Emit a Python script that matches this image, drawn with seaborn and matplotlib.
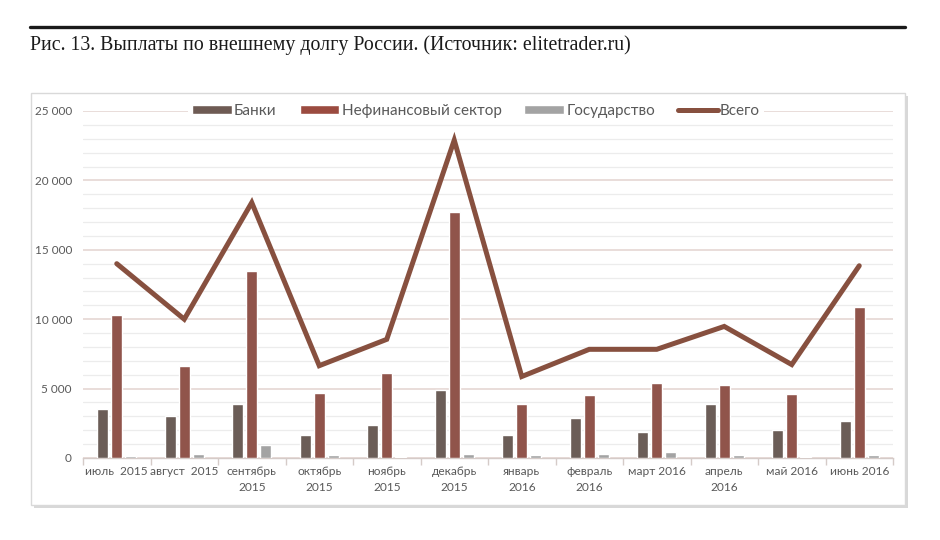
import matplotlib
matplotlib.use('Agg')
import matplotlib.pyplot as plt
import seaborn as sns
import numpy as np
import pandas as pd
from matplotlib.patches import Patch, Rectangle
from matplotlib.lines import Line2D
from matplotlib.ticker import MultipleLocator, FuncFormatter


# Данные (млн долл.)
months = ['июль  2015', 'август  2015', 'сентябрь\n2015', 'октябрь\n2015',
          'ноябрь\n2015', 'декабрь\n2015', 'январь\n2016', 'февраль\n2016',
          'март 2016', 'апрель\n2016', 'май 2016', 'июнь 2016']
banks = [3500, 3050, 3900, 1680, 2380, 4900, 1680, 2900, 1850, 3900, 2000, 2680]
nonfin = [10300, 6600, 13500, 4680, 6150, 17700, 3920, 4520, 5420, 5280, 4600, 10900]
govt = [150, 320, 950, 220, 60, 290, 220, 290, 460, 220, 60, 220]
total = [14000, 10000, 18400, 6650, 8550, 22900, 5870, 7830, 7830, 9480, 6730, 13850]

series_names = ['Банки', 'Нефинансовый сектор', 'Государство']
colors = ['#6e5b54', '#9b4b40', '#a3a3a3']
line_color = '#87503f'
text_color = '#595959'

df = pd.DataFrame({
    'month': months * 3,
    'series': np.repeat(series_names, len(months)),
    'value': banks + nonfin + govt,
})

sns.set_style('white')
plt.rcParams['font.family'] = ['Lato', 'DejaVu Sans']

fig = plt.figure(figsize=(9.4, 5.4), dpi=100)

# заголовок и линейка сверху
fig.add_artist(Line2D([30 / 940, 905 / 940], [1 - 27 / 540, 1 - 27 / 540],
                      color='#1a1a1a', lw=2.4, transform=fig.transFigure))
fig.text(30 / 940, 1 - 45 / 540,
         'Рис. 13. Выплаты по внешнему долгу России. (Источник: elitetrader.ru)',
         fontsize=14.3, family=['Liberation Serif', 'DejaVu Serif'],
         va='center', ha='left', color='#1a1a1a')

# рамка диаграммы с тенью
fig.add_artist(Rectangle((34 / 940, 1 - 508 / 540), 874 / 940, 412 / 540,
                         transform=fig.transFigure, facecolor='#c8c8c8',
                         edgecolor='none', alpha=0.7, zorder=-2))
fig.add_artist(Rectangle((31 / 940, 1 - 505 / 540), 874 / 940, 412 / 540,
                         transform=fig.transFigure, facecolor='white',
                         edgecolor='#d9d9d9', lw=1, zorder=-1))

ax = fig.add_axes([83 / 940, 1 - 458 / 540, 810 / 940, 347 / 540])
ax.set_facecolor('none')

sns.barplot(data=df, x='month', y='value', hue='series', palette=colors,
            width=0.62, gap=0.2, ax=ax, legend=False, zorder=3)
sns.lineplot(x=np.arange(len(months)), y=total, color=line_color, lw=3.6,
             ax=ax, zorder=4, solid_capstyle='round', solid_joinstyle='miter')

ax.set_xlim(-0.5, len(months) - 0.5)
ax.set_ylim(0, 25000)
ax.yaxis.set_major_locator(MultipleLocator(5000))
ax.yaxis.set_minor_locator(MultipleLocator(1000))
ax.yaxis.set_major_formatter(FuncFormatter(lambda v, p: f'{int(v):,}'.replace(',', ' ')))
ax.grid(which='major', axis='y', color='#e3d3cf', lw=1.1, zorder=0)
ax.grid(which='minor', axis='y', color='#ececec', lw=0.9, zorder=0)
ax.set_axisbelow(True)

ax.set_xticks(np.arange(len(months)))
ax.set_xticklabels(months, fontsize=8.6, color=text_color, linespacing=1.55)
ax.set_xticks(np.arange(-0.5, len(months)), minor=True)
ax.tick_params(axis='x', which='major', bottom=False, length=0, pad=6)
ax.tick_params(axis='x', which='minor', bottom=True, length=5,
               color='#d5cbc8', width=1)
ax.tick_params(axis='y', which='both', left=False, length=0, labelsize=8.5,
               labelcolor=text_color, pad=8)
ax.set_xlabel('')
ax.set_ylabel('')
for s in ['left', 'right', 'top']:
    ax.spines[s].set_visible(False)
ax.spines['bottom'].set_color('#d5cbc8')
ax.spines['bottom'].set_linewidth(1)

handles = [Patch(facecolor=c, label=n) for c, n in zip(colors, series_names)]
handles.append(Line2D([0], [0], color=line_color, lw=3.6, label='Всего',
                      solid_capstyle='round'))
leg = fig.legend(handles=handles, loc='center', ncol=4,
                 bbox_to_anchor=(476 / 940, 1 - 111 / 540), frameon=True,
                 fontsize=11, labelcolor=text_color, handlelength=2.6,
                 handleheight=0.5, handletextpad=0.15, columnspacing=1.5,
                 borderpad=0.25)
leg.get_frame().set_facecolor('white')
leg.get_frame().set_edgecolor('none')
leg.get_frame().set_alpha(1)

fig.savefig('out.png', dpi=100)
